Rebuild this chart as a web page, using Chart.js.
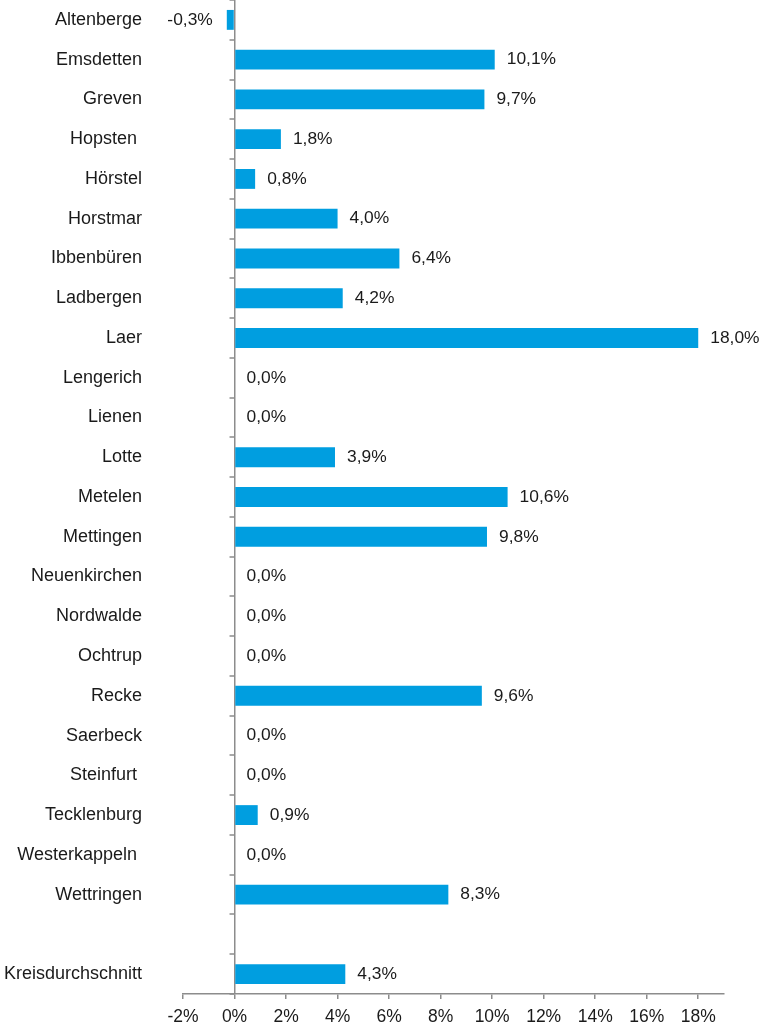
<!DOCTYPE html>
<html>
<head>
<meta charset="utf-8">
<script src="https://cdn.jsdelivr.net/npm/chart.js@4/dist/chart.umd.min.js"></script>
<style>
  html, body { margin: 0; padding: 0; background: #ffffff; }
  #wrap { width: 760px; height: 1024px; position: relative; }
</style>
</head>
<body>
<div id="wrap"><canvas id="c" width="760" height="1024"></canvas></div>
<script>
const categories = ['Altenberge', 'Emsdetten', 'Greven', 'Hopsten ', 'Hörstel', 'Horstmar', 'Ibbenbüren', 'Ladbergen', 'Laer', 'Lengerich', 'Lienen', 'Lotte', 'Metelen', 'Mettingen', 'Neuenkirchen', 'Nordwalde', 'Ochtrup', 'Recke', 'Saerbeck', 'Steinfurt ', 'Tecklenburg', 'Westerkappeln ', 'Wettringen', '', 'Kreisdurchschnitt'];
const values = [-0.3, 10.1, 9.7, 1.8, 0.8, 4.0, 6.4, 4.2, 18.0, 0.0, 0.0, 3.9, 10.6, 9.8, 0.0, 0.0, 0.0, 9.6, 0.0, 0.0, 0.9, 0.0, 8.3, null, 4.3];
const axisMin = -2;
const axisMax = 19;
const axisStep = 2;

const FONT = "'Liberation Sans', Arial, sans-serif";
const TEXT = '#1a1a1a';
const AXIS = '#8c8c8c';
const BAR = '#009EE0';

function fmt(v) { return v.toFixed(1).replace('.', ',') + '%'; }

const valueLabels = {
  id: 'valueLabels',
  afterDatasetsDraw(chart) {
    const ctx = chart.ctx;
    const meta = chart.getDatasetMeta(0);
    ctx.save();
    ctx.font = '17.4px ' + FONT;
    ctx.fillStyle = TEXT;
    ctx.textBaseline = 'middle';
    meta.data.forEach((el, i) => {
      const v = values[i];
      if (v === null || v === undefined) return;
      if (v < 0) {
        ctx.textAlign = 'right';
        ctx.fillText(fmt(v), el.x - 14, el.y);
      } else {
        ctx.textAlign = 'left';
        ctx.fillText(fmt(v), el.x + 12, el.y);
      }
    });
    ctx.restore();
  }
};

const zeroAxisTicks = {
  id: 'zeroAxisTicks',
  afterDatasetsDraw(chart) {
    const xs = chart.scales.x, ys = chart.scales.y;
    const x0 = xs.getPixelForValue(0);
    const n = categories.length;
    const half = (ys.getPixelForValue(1) - ys.getPixelForValue(0)) / 2;
    const ctx = chart.ctx;
    ctx.save();
    ctx.strokeStyle = AXIS;
    ctx.lineWidth = 1.5;
    ctx.beginPath();
    for (let i = 0; i <= n; i++) {
      const y = Math.round(i < n ? ys.getPixelForValue(i) - half : ys.getPixelForValue(n - 1) + half);
      ctx.moveTo(x0 - 5, y);
      ctx.lineTo(x0, y);
    }
    ctx.stroke();
    ctx.restore();
  }
};

new Chart(document.getElementById('c'), {
  type: 'bar',
  data: {
    labels: categories,
    datasets: [{
      data: values,
      backgroundColor: BAR,
      borderWidth: 0,
      barPercentage: 0.5,
      categoryPercentage: 1.0
    }]
  },
  options: {
    indexAxis: 'y',
    responsive: false,
    animation: false,
    devicePixelRatio: 1,
    layout: { padding: { left: 0, right: 36, top: 0, bottom: 0 } },
    plugins: { legend: { display: false }, tooltip: { enabled: false } },
    scales: {
      x: {
        type: 'linear',
        min: axisMin,
        max: axisMax,
        afterFit(scale) { scale.height = 30; scale.paddingLeft = 0; scale.paddingRight = 0; },
        ticks: {
          stepSize: axisStep,
          includeBounds: false,
          padding: 8,
          color: TEXT,
          font: { family: FONT, size: 17.5 },
          maxRotation: 0,
          callback: (v) => v + '%'
        },
        grid: {
          drawOnChartArea: true,
          color: (c) => (c.tick && c.tick.value === 0 ? AXIS : 'rgba(0,0,0,0)'),
          lineWidth: 1.5,
          tickColor: AXIS,
          tickLength: 5,
          drawTicks: true
        },
        border: { display: true, color: AXIS, width: 1.5 }
      },
      y: {
        type: 'category',
        afterFit(scale) { scale.width = 183; scale.paddingTop = 0; scale.paddingBottom = 0; },
        ticks: {
          padding: 41,
          color: TEXT,
          font: { family: FONT, size: 18 },
          autoSkip: false
        },
        grid: { display: false, drawTicks: false },
        border: { display: false }
      }
    }
  },
  plugins: [valueLabels, zeroAxisTicks]
});
</script>
</body>
</html>
